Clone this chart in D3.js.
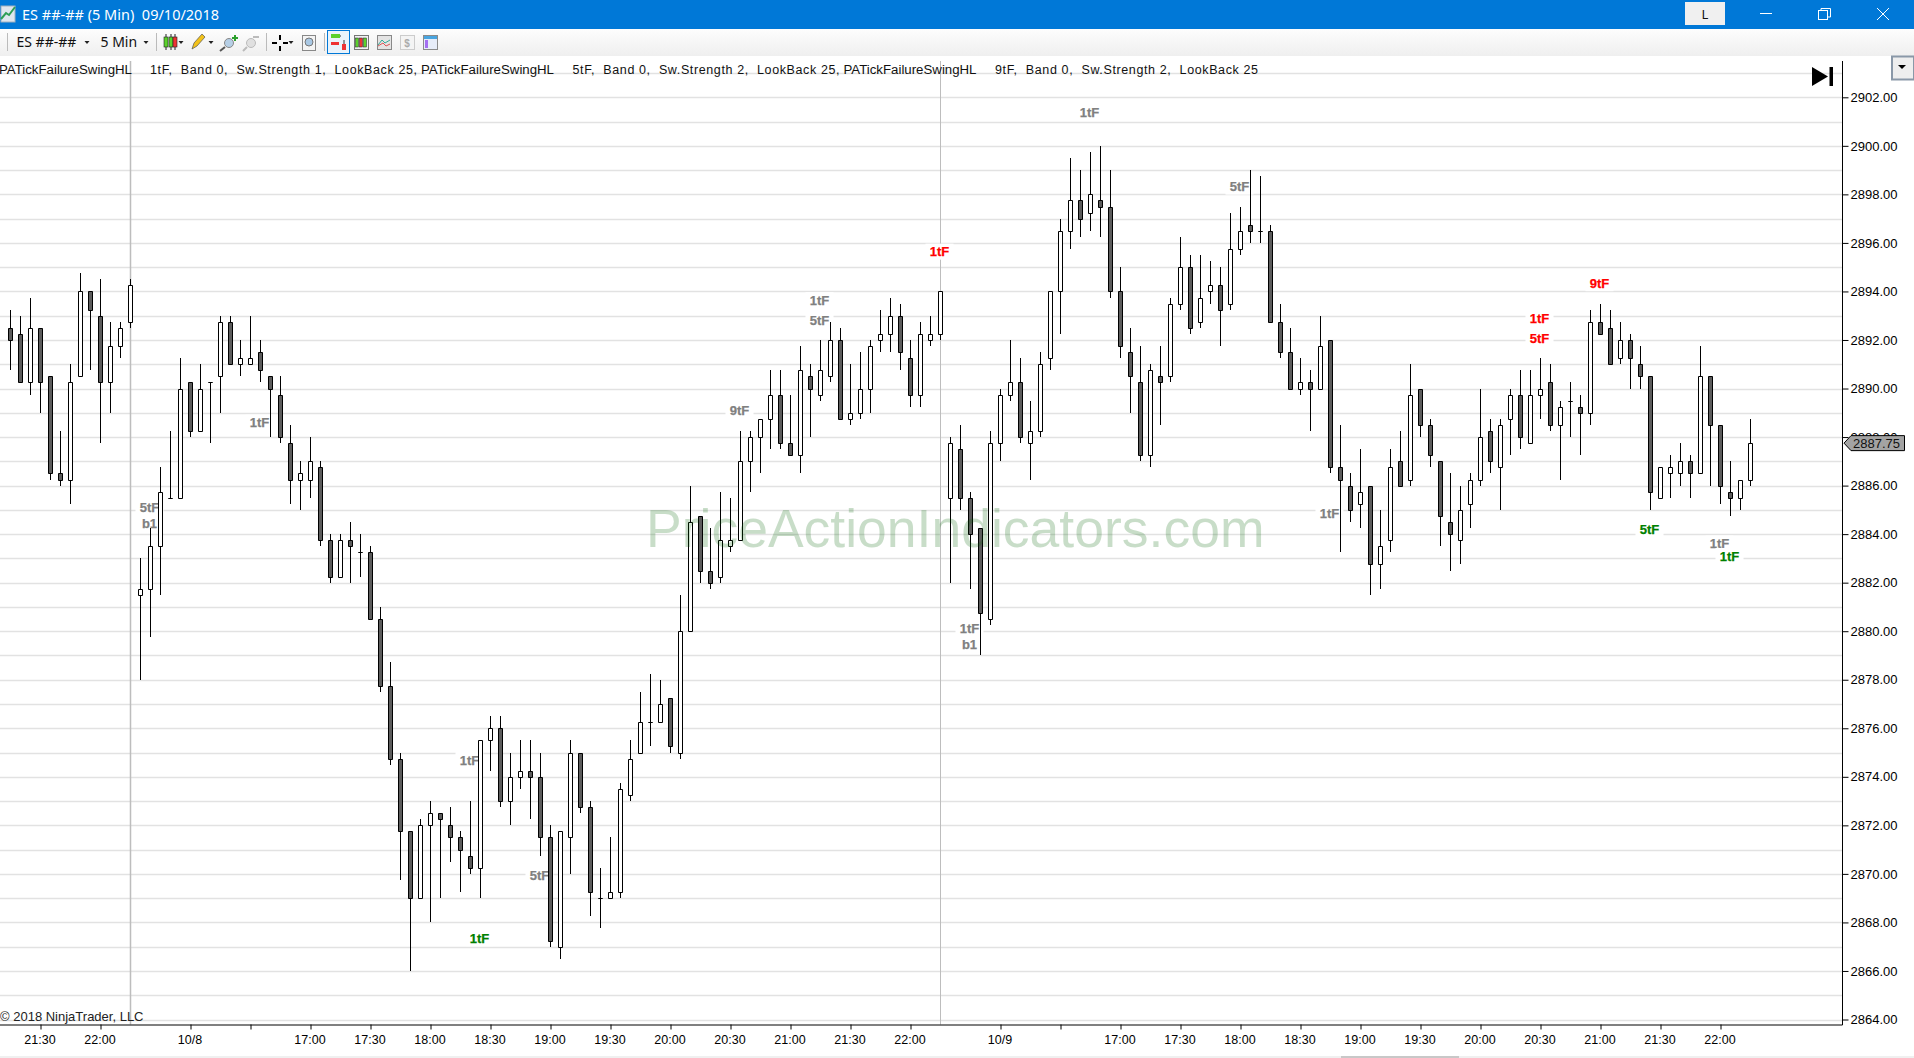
<!DOCTYPE html>
<html>
<head>
<meta charset="utf-8">
<title>ES 5 Min</title>
<script src="https://cdn.jsdelivr.net/npm/d3@7"></script>
<style>
html,body{margin:0;padding:0;background:#fff;overflow:hidden;}
svg{display:block;}
text{font-family:"Liberation Sans",Arial,sans-serif;}
</style>
</head>
<body>
<svg id="chart" width="1914" height="1058"></svg>
<script>
var opens=[2892.5,2892.25,2890.25,2892.5,2890.5,2886.5,2886.25,2890.5,2894,2893,
2890.25,2891.75,2892.75,2881.5,2881.75,2883.5,2885.5,2885.5,2890.25,2888.25,
2890.25,2890.5,2892.75,2891,2891,2891.5,2890.5,2889.75,2887.75,2886.25,
2886.25,2886.75,2883.75,2882.25,2883.75,2883.25,2883.25,2880.5,2877.75,2874.75,
2871.75,2869,2872,2872.5,2872,2871.5,2870.75,2870.25,2875.5,2876,
2873,2874,2874.25,2874,2871.5,2867,2871.5,2875,2872.75,2869,
2869,2869.25,2873.25,2875,2876.25,2876.25,2877.25,2875,2880,2884.75,
2882.5,2882.25,2883.5,2883.75,2887,2888,2888.75,2889.75,2887.75,2887.25,
2890.5,2889.75,2890.5,2892,2888.75,2889,2890,2892,2892.25,2893,
2891.25,2889.75,2892,2892.25,2885.5,2887.5,2885.5,2884.25,2880.5,2887.75,
2889.75,2890.25,2887.75,2888.25,2891.25,2894,2896.5,2897.75,2897.25,2897.75,
2897.5,2894,2891.5,2890.25,2887.25,2890.5,2890.5,2893.5,2895,2892.75,
2894,2894.25,2893.5,2895.75,2896.75,2896.5,2896.5,2892.75,2891.5,2890,
2890.25,2890,2892,2886.75,2886,2885.25,2886,2882.75,2883.75,2887,
2886.25,2890,2888.5,2887,2884.5,2883.75,2885.25,2886.25,2888.25,2886.75,
2888.75,2889.75,2887.75,2889.75,2890.25,2888.5,2889.5,2889.25,2889,2892.75,
2892.5,2891.25,2892,2891,2890.5,2885.5,2886.5,2886.5,2887,2886.5,
2890.5,2888.5,2885.75,2885.5,2886.25];
var highs=[2893.25,2893,2893.75,2892.5,2890.5,2888.25,2891,2894.75,2894,2894.5,
2892.75,2892.75,2894.5,2883,2884.25,2886.75,2888.25,2891.25,2890.25,2891,
2890.25,2893,2893,2892,2893,2892,2890.5,2890.5,2888.5,2887,
2888,2887,2884,2884,2884.5,2884,2883.5,2881,2878.75,2875,
2871.75,2872.25,2873,2872.5,2872.75,2871.75,2873,2875.5,2876.5,2876.5,
2875,2875.5,2875.5,2875,2872,2871.75,2875.5,2875,2873,2870.25,
2871.5,2873.75,2875.5,2877.5,2878.25,2878,2877.25,2881.5,2886,2884.75,
2884.25,2885.75,2885.5,2888.25,2888.25,2888.75,2890.75,2890.75,2889.75,2891.75,
2891,2892,2892.75,2892.5,2891,2891.5,2892,2893.25,2893.75,2893.5,
2892,2892.75,2893,2894,2888,2888.5,2885.75,2884.25,2888.25,2890,
2892,2891.25,2889.5,2891.5,2894,2897,2899.5,2899,2899.75,2900,
2899,2895,2892.5,2891.75,2891,2891.75,2893.75,2896.25,2895.5,2895.5,
2895.25,2895,2897.25,2897.5,2899,2898.75,2896.75,2893.5,2892.5,2891.25,
2890.75,2893,2892,2888.5,2886.5,2887.5,2886,2885,2887.5,2888.25,
2891,2890,2888.75,2887,2886.5,2886,2886.5,2890,2888.75,2888.75,
2890,2890.75,2890.75,2891.25,2891,2889.5,2890.25,2889.75,2893.25,2893.5,
2893.25,2892.75,2892.25,2891.75,2890.5,2886.75,2887.25,2887.75,2887.25,2891.75,
2890.5,2888.5,2887,2886.25,2888.75];
var lows=[2890.75,2890.25,2889.75,2889,2886.25,2886,2885.25,2890.5,2890.75,2887.75,
2889,2891.25,2892.5,2878,2879.75,2881.5,2885.5,2885.5,2888,2888.25,
2887.75,2889,2891,2890.5,2891,2890.25,2888,2887.75,2885.25,2885,
2885.5,2883.5,2882,2882.25,2882,2882.25,2880.5,2877.5,2874.5,2869.75,
2866,2869,2868,2869,2870.5,2869.25,2870,2869,2874.25,2872.75,
2872,2873.5,2872.25,2870.75,2867,2866.5,2870,2872.5,2868.25,2867.75,
2869,2869,2873,2875,2875.25,2876.25,2875,2874.75,2880,2882,
2881.75,2882,2883.25,2883.75,2885.75,2886.5,2887.5,2887.5,2887.25,2886.5,
2888,2889.5,2890.25,2888.75,2888.5,2888.75,2889,2891.5,2891.5,2890.75,
2889.25,2889.25,2891.75,2892,2882,2885,2881.75,2879,2880.25,2887,
2889.5,2887.75,2886.25,2888,2890.75,2892.25,2895.75,2896.25,2896.5,2896.25,
2893.75,2891.25,2889,2887,2886.75,2888.5,2890.25,2893.25,2892.25,2892.5,
2893.5,2891.75,2893.25,2895.5,2896,2896,2892.75,2891.25,2890,2889.75,
2888.25,2890,2886.5,2883.25,2884.5,2884.25,2881.5,2881.75,2883.25,2886,
2886,2888,2886.75,2883.5,2882.5,2882.75,2884.25,2886,2886.5,2885,
2887.25,2887.5,2887.75,2888.75,2888.25,2886.25,2888,2887.25,2888.5,2892.25,
2891,2891,2890,2890,2885,2885.5,2885.5,2886,2885.5,2886.5,
2886,2885.25,2884.75,2885,2886];
var closes=[2892,2890.25,2892.5,2890.25,2886.5,2886.25,2890.25,2894,2893.25,2890.25,
2891.75,2892.5,2894.25,2881.75,2883.5,2885.75,2885.5,2890,2888.25,2890,
2890.25,2892.75,2891,2891.25,2891.25,2890.75,2890,2888,2886.25,2886.5,
2887,2883.75,2882.25,2883.75,2883.5,2883.25,2880.5,2877.75,2874.75,2871.75,
2869,2872,2872.5,2872.25,2871.5,2871,2870.25,2875.5,2876,2873,
2874,2874.25,2874,2871.5,2867.25,2871.75,2875,2872.75,2869.25,2869,
2869.25,2873.5,2874.75,2876.25,2876.25,2877,2875.25,2880,2884.5,2882.5,
2882,2883.75,2883.75,2887,2888,2888.75,2889.75,2887.75,2887.25,2890.75,
2890,2890.75,2892,2888.75,2889,2890,2891.75,2892.25,2893,2891.5,
2889.75,2892.25,2892.25,2894,2887.75,2885.5,2884,2880.75,2887.75,2889.75,
2890.25,2888,2888.25,2891,2894,2896.5,2897.75,2897,2898,2897.5,
2894,2891.75,2890.5,2887.25,2890.75,2890.25,2893.5,2895,2892.5,2893.75,
2894.25,2893.25,2895.75,2896.5,2896.5,2896.5,2892.75,2891.5,2890,2890.25,
2890,2891.75,2886.75,2886.25,2885,2885.75,2882.75,2883.5,2886.75,2886,
2889.75,2888.5,2887.25,2884.75,2884,2885,2886.25,2888,2887,2888.5,
2889.75,2888,2889.75,2890,2888.5,2889.25,2889.5,2889,2892.75,2892.25,
2891,2892,2891.25,2890.5,2885.75,2886.75,2886.75,2887,2886.5,2890.5,
2888.5,2886,2885.5,2886.25,2887.75];

// x axis: bar index of each tick and what it says ("" = tick only)
var timeTicks=[3,9,18,24,30,36,42,48,54,60,66,72,78,84,90,99,105,111,117,123,129,135,141,147,153,159,165,171];
var timeLabels=["21:30","22:00","10/8","","17:00","17:30","18:00","18:30","19:00","19:30","20:00","20:30","21:00","21:30","22:00","10/9","","17:00","17:30","18:00","18:30","19:00","19:30","20:00","20:30","21:00","21:30","22:00"];
var priceTicks=[2902,2900,2898,2896,2894,2892,2890,2888,2886,2884,2882,2880,2878,2876,2874,2872,2870,2868,2866,2864];
var gridPrices=[2903,2902,2901,2900,2899,2898,2897,2896,2895,2894,2893,2892,2891,2890,2889,2888,2887,2886,2885,2884,2883,2882,2881,2880,2879,2878,2877,2876,2875,2874,2873,2872,2871,2870,2869,2868,2867,2866,2865,2864];
var sessionBars=[12,93];
var lastPrice=2887.75;

// swing failure labels
var labelBars=[25,14,14,46,47,53,73,81,81,93,96,96,108,123,159,153,153,132,164,171,172];
var labelPrices=[2888.59,2885.12,2884.46,2874.69,2867.35,2869.96,2889.09,2893.64,2892.81,2895.64,2880.12,2879.45,2901.37,2898.32,2894.34,2892.88,2892.05,2884.86,2884.2,2883.61,2883.1];
var labelTexts=["1tF","5tF","b1","1tF","1tF","5tF","9tF","1tF","5tF","1tF","1tF","b1","1tF","5tF","9tF","1tF","5tF","1tF","5tF","1tF","1tF"];
var labelKinds=["n","n","n","n","g","n","n","n","n","r","n","n","n","n","r","r","r","n","g","n","g"];
var kindColor={n:"#808080",r:"#ff0000",g:"#008000"};

var legendNames=["PATickFailureSwingHL","PATickFailureSwingHL","PATickFailureSwingHL"];
var legendParams=["1tF,  Band 0,  Sw.Strength 1,  LookBack 25,","5tF,  Band 0,  Sw.Strength 2,  LookBack 25,","9tF,  Band 0,  Sw.Strength 2,  LookBack 25"];

var width=1914,height=1058;
var plotRight=1842.5,plotBottom=1024.5;

var xScale=d3.scaleLinear().domain([0,174]).range([10.5,1750.5]);
var yScale=d3.scaleLinear().domain([2864,2902]).range([1019.5,97.3]);

var svg=d3.select("#chart");

// grid
svg.append("g").selectAll("line")
  .data(gridPrices)
  .enter()
  .append("line")
  .attr("x1",0)
  .attr("x2",plotRight)
  .attr("y1",function(d){return Math.round(yScale(d))+0.5;})
  .attr("y2",function(d){return Math.round(yScale(d))+0.5;})
  .attr("stroke","#e2e2e2")
  .attr("stroke-width",1.3);

svg.append("g").selectAll("line")
  .data(sessionBars)
  .enter()
  .append("line")
  .attr("x1",function(d){return xScale(d);})
  .attr("x2",function(d){return xScale(d);})
  .attr("y1",61)
  .attr("y2",plotBottom)
  .attr("stroke","#bdbdbd")
  .attr("stroke-width",function(d,i){return i==0?1.5:1;});

// labels sit under the bars, with a white patch that breaks the grid
var labels=svg.append("g").selectAll("g")
  .data(labelBars)
  .enter()
  .append("g")
  .attr("transform",function(d,i){return "translate("+(xScale(d)-1)+","+yScale(labelPrices[i])+")";});
labels.append("rect")
  .attr("x",-14)
  .attr("y",-8)
  .attr("width",28)
  .attr("height",16)
  .attr("fill","#fff");
labels.append("text")
  .attr("text-anchor","middle")
  .attr("dy","0.36em")
  .style("font-size","13px")
  .style("font-weight","bold")
  .attr("fill",function(d,i){return kindColor[labelKinds[i]];})
  .attr("stroke",function(d,i){return kindColor[labelKinds[i]];})
  .attr("stroke-width",0.25)
  .text(function(d,i){return labelTexts[i];});

// candles
var bars=svg.append("g").selectAll("g")
  .data(opens)
  .enter()
  .append("g");
bars.append("line")
  .attr("x1",function(d,i){return xScale(i);})
  .attr("x2",function(d,i){return xScale(i);})
  .attr("y1",function(d,i){return Math.round(yScale(highs[i]));})
  .attr("y2",function(d,i){return Math.round(yScale(lows[i]));})
  .attr("stroke","#000")
  .attr("stroke-width",1);
bars.append("path")
  .attr("d",function(d,i){
    var x=xScale(i);
    var top=Math.round(yScale(Math.max(d,closes[i])))+0.5;
    var bot=Math.round(yScale(Math.min(d,closes[i])))+0.5;
    return "M"+(x-2)+" "+top+"H"+(x+2)+"V"+bot+"H"+(x-2)+"Z";
  })
  .attr("fill",function(d,i){return closes[i]<d?"#5c5c5c":"#fff";})
  .attr("stroke","#000")
  .attr("stroke-width",1);

// axes
var xAxis=d3.axisBottom(xScale)
  .tickValues(timeTicks)
  .tickSize(5)
  .tickPadding(6)
  .tickFormat(function(d,i){return timeLabels[i];});
var gx=svg.append("g")
  .attr("transform","translate(0,"+plotBottom+")")
  .call(xAxis);
gx.select(".domain").attr("d","M0,0.5H"+plotRight).attr("stroke","#000");
gx.selectAll("text").attr("dx",-1).style("font-size","12.5px").style("font-family","Liberation Sans").attr("fill","#000");

var yAxis=d3.axisRight(yScale)
  .tickValues(priceTicks)
  .tickSize(6)
  .tickPadding(2)
  .tickFormat(d3.format(".2f"));
var gy=svg.append("g")
  .attr("transform","translate("+plotRight+",0)")
  .call(yAxis);
gy.select(".domain").attr("d","M0,61V"+(plotBottom+0.5)).attr("stroke","#000");
gy.selectAll("text").style("font-size","13px").style("font-family","Liberation Sans").attr("fill","#000");

// current price tag
var tagY=yScale(lastPrice);
svg.append("path")
  .attr("d","M1844,"+tagY+"L1851,"+(tagY-7.5)+"H1904.5V"+(tagY+7.5)+"H1851Z")
  .attr("fill","#a3a3a3")
  .attr("stroke","#000")
  .attr("stroke-width",1);
svg.append("text")
  .attr("x",1853)
  .attr("y",tagY)
  .attr("dy","0.36em")
  .style("font-size","13px")
  .attr("fill","#111")
  .text(d3.format(".2f")(lastPrice));

// watermark goes over everything
svg.append("text")
  .attr("x",646)
  .attr("y",547)
  .style("font-size","53.5px")
  .attr("fill","#006400")
  .attr("opacity",0.21)
  .text("PriceActionIndicators.com");

svg.append("text")
  .attr("x",0)
  .attr("y",1021)
  .style("font-size","13px")
  .attr("fill","#222")
  .text("© 2018 NinjaTrader, LLC");

// window chrome
var defs=svg.append("defs");
var grad=defs.append("linearGradient").attr("id","tb").attr("x1",0).attr("x2",0).attr("y1",0).attr("y2",1);
grad.append("stop").attr("offset","0%").attr("stop-color","#fdfdfd");
grad.append("stop").attr("offset","100%").attr("stop-color","#efefef");

svg.append("rect").attr("x",0).attr("y",29).attr("width",width).attr("height",27).attr("fill","url(#tb)");
svg.append("rect").attr("x",0).attr("y",0).attr("width",width).attr("height",29).attr("fill","#0078d7");

// title icon
svg.append("rect").attr("x",1).attr("y",6).attr("width",14).attr("height",16).attr("fill","#dfe6ee").attr("stroke","#9fb0c0");
svg.append("path").attr("d","M1 19L6 13L9 15L15 7").attr("fill","none").attr("stroke","#2e9e55").attr("stroke-width",2);

svg.append("text").attr("x",22).attr("y",20)
  .style("font-size","14.5px").style("font-family","Noto Sans").attr("fill","#fff")
  .style("white-space","pre").text("ES ##-## (5 Min)  09/10/2018");

svg.append("rect").attr("x",1685).attr("y",2).attr("width",40).attr("height",23).attr("fill","#f0f0f0");
svg.append("text").attr("x",1705).attr("y",19).attr("text-anchor","middle").style("font-size","13px").style("font-family","Noto Sans").attr("fill","#111").text("L");
svg.append("line").attr("x1",1760).attr("x2",1772).attr("y1",13.5).attr("y2",13.5).attr("stroke","#fff");
svg.append("rect").attr("x",1818.5).attr("y",10.5).attr("width",9).attr("height",9).attr("fill","#0078d7").attr("stroke","#fff");
svg.append("path").attr("d","M1821 10V8.5H1830.5V17H1828").attr("fill","none").attr("stroke","#fff");
svg.append("path").attr("d","M1877 8L1889 20M1889 8L1877 20").attr("fill","none").attr("stroke","#fff");

// toolbar
svg.append("text").attr("x",16.5).attr("y",47).style("font-size","14px").style("font-family","Noto Sans").attr("fill","#111").text("ES ##-##");
svg.append("text").attr("x",100.5).attr("y",47).style("font-size","14px").style("font-family","Noto Sans").attr("fill","#111").text("5 Min");
var sepX=[7,156,266,324];
svg.append("g").selectAll("line").data(sepX).enter().append("line")
  .attr("x1",function(d){return d+0.5;}).attr("x2",function(d){return d+0.5;})
  .attr("y1",33).attr("y2",51).attr("stroke","#bbb");
var caretX=[87,146,181,211,291];
svg.append("g").selectAll("path").data(caretX).enter().append("path")
  .attr("d",function(d){return "M"+(d-2.5)+" 41H"+(d+2.5)+"L"+d+" 44Z";}).attr("fill","#222");

// candle icon
[166,171,175].forEach(function(x,i){
  svg.append("line").attr("x1",x).attr("x2",x).attr("y1",34).attr("y2",50).attr("stroke","#222");
  svg.append("rect").attr("x",x-2).attr("y",37).attr("width",4).attr("height",10).attr("fill",i==2?"#e33":"#5bd12c").attr("stroke","#222").attr("stroke-width",0.6);
});
// pencil
svg.append("path").attr("d","M192 49L194 43L202 34L205 37L197 46Z").attr("fill","#f2c21a").attr("stroke","#555").attr("stroke-width",0.7);
// zoom in / out
svg.append("circle").attr("cx",229).attr("cy",43).attr("r",4.5).attr("fill","#b6cfe6").attr("stroke","#888");
svg.append("line").attr("x1",225).attr("y1",47).attr("x2",220).attr("y2",51).attr("stroke","#555").attr("stroke-width",2);
svg.append("path").attr("d","M232 38H238M235 35V41").attr("stroke","#2ca02c").attr("stroke-width",2);
svg.append("circle").attr("cx",251).attr("cy",43).attr("r",4.5).attr("fill","#e0e0e0").attr("stroke","#bbb");
svg.append("line").attr("x1",247).attr("y1",47).attr("x2",243).attr("y2",51).attr("stroke","#bbb").attr("stroke-width",2);
svg.append("line").attr("x1",253).attr("y1",37).attr("x2",259).attr("y2",37).attr("stroke","#bbb").attr("stroke-width",2);
// crosshair
svg.append("path").attr("d","M272 43H277M283 43H288M280 35V40M280 46V51").attr("stroke","#000").attr("stroke-width",2);
// magnifier page
svg.append("rect").attr("x",302.5).attr("y",35.5).attr("width",13).attr("height",15).attr("fill","#f4f4f4").attr("stroke","#888");
svg.append("circle").attr("cx",309).attr("cy",42).attr("r",4).attr("fill","#a9c8e4").attr("stroke","#777");
// selected button
svg.append("rect").attr("x",327.5).attr("y",30.5).attr("width",22).attr("height",23).attr("fill","#e9f3fb").attr("stroke","#0078d7");
svg.append("path").attr("d","M331 36H341M331 44H339M344 40V50").attr("stroke","#333").attr("stroke-width",1);
svg.append("rect").attr("x",331).attr("y",34).attr("width",9).attr("height",4).attr("fill","#5bd12c");
svg.append("rect").attr("x",331).attr("y",42).attr("width",8).attr("height",3).attr("fill","#e33");
svg.append("rect").attr("x",342).attr("y",44).attr("width",4).attr("height",6).attr("fill","#e33");
// other panel buttons
var panelX=[354,377,400,423];
var panelFill=["#f1f1f1","#e4e4e4","#f4f4f4","#e6ecf8"];
var panelStroke=["#777","#888","#ccc","#8a8a8a"];
svg.append("g").selectAll("rect").data(panelX).enter().append("rect")
  .attr("x",function(d){return d+0.5;}).attr("y",35.5).attr("width",14).attr("height",14)
  .attr("fill",function(d,i){return panelFill[i];}).attr("stroke",function(d,i){return panelStroke[i];});
[357,361,365].forEach(function(x,i){
  svg.append("rect").attr("x",x-1.5).attr("y",38).attr("width",3).attr("height",9).attr("fill",i==1?"#e33":"#5bd12c").attr("stroke","#222").attr("stroke-width",0.5);
});
svg.append("path").attr("d","M378 45L382 40L385 43L390 40").attr("fill","none").attr("stroke","#3a9").attr("stroke-width",1);
svg.append("path").attr("d","M378 46L383 43L386 46L390 44").attr("fill","none").attr("stroke","#d55").attr("stroke-width",1);
svg.append("text").attr("x",407).attr("y",47).attr("text-anchor","middle").style("font-size","10px").style("font-weight","bold").attr("fill","#aaa").text("$");
svg.append("rect").attr("x",424).attr("y",36).attr("width",13).attr("height",3).attr("fill","#49a5e0");
svg.append("rect").attr("x",425).attr("y",40).attr("width",3).attr("height",8).attr("fill","#a46ff0");

// legend line, three runs of name + params
var legendNameX=[-1,421,843.5];
var legendParamX=[150,572.5,995];
var legendParamW=[267,267,263];
svg.append("g").selectAll("text").data(legendNames).enter().append("text")
  .attr("x",function(d,i){return legendNameX[i];})
  .attr("y",74)
  .attr("textLength",133)
  .attr("lengthAdjust","spacingAndGlyphs")
  .style("font-size","12.5px")
  .attr("fill","#111")
  .text(function(d){return d;});
svg.append("g").selectAll("text").data(legendParams).enter().append("text")
  .attr("x",function(d,i){return legendParamX[i];})
  .attr("y",74)
  .attr("textLength",function(d,i){return legendParamW[i];})
  .attr("lengthAdjust","spacing")
  .style("font-size","12.5px")
  .style("white-space","pre")
  .attr("fill","#111")
  .text(function(d){return d;});

// skip to end + dropdown
svg.append("path").attr("d","M1812 67L1828 76.5L1812 86Z").attr("fill","#000");
svg.append("rect").attr("x",1829.5).attr("y",67).attr("width",3.5).attr("height",19).attr("fill","#000");
svg.append("rect").attr("x",1892).attr("y",56.5).attr("width",22).attr("height",23).attr("fill","#eee").attr("stroke","#8a98a8").attr("stroke-width",2);
svg.append("path").attr("d","M1898 65H1906L1902 69Z").attr("fill","#000");

// bottom scrollbar strip
svg.append("rect").attr("x",0).attr("y",1056).attr("width",width).attr("height",2).attr("fill","#f0f0f0");
svg.append("rect").attr("x",1341).attr("y",1056).attr("width",118).attr("height",2).attr("fill","#c8c8c8");
</script>
</body>
</html>
